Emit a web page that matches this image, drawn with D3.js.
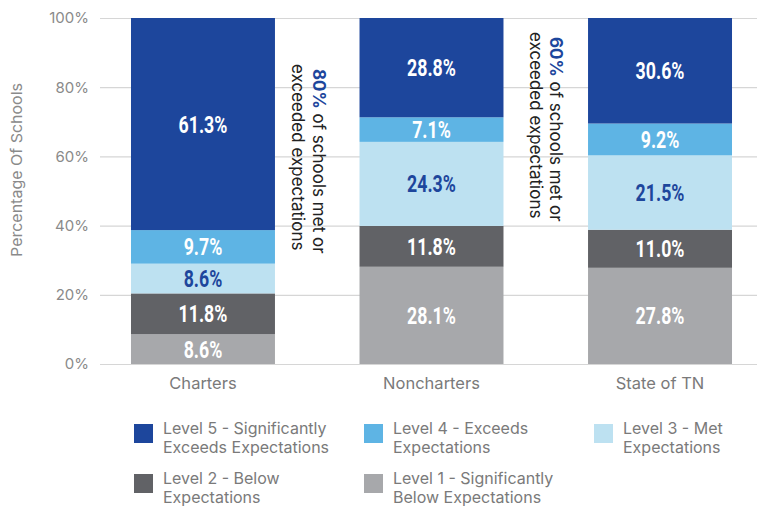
<!DOCTYPE html>
<html><head><meta charset="utf-8">
<script src="https://cdn.jsdelivr.net/npm/d3@7"></script>
<style>body{margin:0;background:#fff;}svg{display:block;}</style>
</head><body>
<svg id="chart" width="757" height="512"></svg>
<script>
const categories = ["Charters", "Noncharters", "State of TN"];
const levels = ["Level 1 - Significantly Below Expectations", "Level 2 - Below Expectations", "Level 3 - Met Expectations", "Level 4 - Exceeds Expectations", "Level 5 - Significantly Exceeds Expectations"];
const level1 = [8.6, 28.1, 27.8];
const level2 = [11.8, 11.8, 11.0];
const level3 = [8.6, 24.3, 21.5];
const level4 = [9.7, 7.1, 9.2];
const level5 = [61.3, 28.8, 30.6];
const yTicks = [0, 20, 40, 60, 80, 100];
const annotations = [
  {after: 0, pct: "80%", rest: " of schools met or", line2: "exceeded expectations"},
  {after: 1, pct: "60%", rest: " of schools met or", line2: "exceeded expectations"}
];
const legendLines = [
  ["Level 5 - Significantly", "Exceeds Expectations"],
  ["Level 4 - Exceeds", "Expectations"],
  ["Level 3 - Met", "Expectations"],
  ["Level 2 - Below", "Expectations"],
  ["Level 1 - Significantly", "Below Expectations"]
];
const legendOrder = [4, 3, 2, 1, 0];

const colors = ["#a7a8ab", "#616266", "#bde1f1", "#5eb4e4", "#1d469c"];
const labelColors = ["#ffffff", "#ffffff", "#1d469c", "#ffffff", "#ffffff"];
const series = [level1, level2, level3, level4, level5];

const svg = d3.select("#chart");
const x = d3.scaleBand().domain(categories).range([103, 760]).paddingInner(0.37).paddingOuter(0.1225);
const y = d3.scaleLinear().domain([0, 100]).range([364, 18]).clamp(true);

// gridlines
svg.append("g").selectAll("line").data(yTicks).join("line")
  .attr("x1", 100).attr("x2", 757)
  .attr("y1", d => y(d) + 0.5).attr("y2", d => y(d) + 0.5)
  .attr("stroke", "#d6d6d6").attr("stroke-width", 1.2);

// y axis labels
const yAxis = d3.axisLeft(y).tickValues(yTicks).tickFormat(d => d + "%").tickSize(0).tickPadding(0);
const ya = svg.append("g").attr("transform", "translate(89,0)").call(yAxis);
ya.select(".domain").remove();
ya.selectAll("text").attr("font-family", "Inter, Roboto, sans-serif").attr("font-size", 15).attr("fill", "#8a8a8a");

svg.append("text").attr("transform", "translate(22,170) rotate(-90)")
  .attr("text-anchor", "middle").attr("font-family", "Inter, Roboto, sans-serif")
  .attr("font-size", 15).attr("fill", "#8a8a8a")
  .attr("textLength", 174).attr("lengthAdjust", "spacingAndGlyphs")
  .text("Percentage Of Schools");

// stacked data
const rows = categories.map((c, i) => {
  const o = {cat: c};
  levels.forEach((l, j) => o[l] = series[j][i]);
  return o;
});
const stack = d3.stack().keys(levels)(rows);

const g = svg.append("g");
stack.forEach((layer, j) => {
  g.append("g").selectAll("rect").data(layer).join("rect")
    .attr("x", d => x(d.data.cat))
    .attr("width", x.bandwidth())
    .attr("y", d => y(d[1]))
    .attr("height", d => y(d[0]) - y(d[1]))
    .attr("fill", colors[j]);
  g.append("g").selectAll("text").data(layer).join("text")
    .attr("transform", d => `translate(${x(d.data.cat) + x.bandwidth() / 2},${(y(d[0]) + y(d[1])) / 2 + 8.5}) scale(0.74,1)`)
    .attr("text-anchor", "middle")
    .attr("font-family", "Roboto, 'Open Sans', sans-serif")
    .attr("font-weight", 700)
    .attr("font-size", 24)
    .attr("fill", labelColors[j])
    .text((d, i) => series[j][i].toFixed(1) + "%");
});

// x labels
const xAxis = d3.axisBottom(x).tickSize(0).tickPadding(0);
const xa = svg.append("g").attr("transform", "translate(0,377)").call(xAxis);
xa.select(".domain").remove();
xa.selectAll("text").attr("font-family", "Inter, Roboto, sans-serif").attr("font-size", 16.5).attr("fill", "#7a7a7a");

// annotations
const annOffsets = [[38, 17, 69, 64], [47, 27, 37, 32]];
annotations.forEach((a, k) => {
  const bx = x(categories[a.after]) + x.bandwidth();
  const [o1, o2, s1, s2] = annOffsets[k];
  const t1 = svg.append("text")
    .attr("transform", `translate(${bx + o1},${s1}) rotate(90)`)
    .attr("font-family", "Inter, Roboto, sans-serif").attr("font-size", 17).attr("fill", "#222");
  t1.append("tspan").attr("font-weight", 700).attr("fill", "#1d469c").text(a.pct);
  t1.append("tspan").text(a.rest);
  svg.append("text")
    .attr("transform", `translate(${bx + o2},${s2}) rotate(90)`)
    .attr("font-family", "Inter, Roboto, sans-serif").attr("font-size", 17).attr("fill", "#222")
    .text(a.line2);
});

// legend
const legX = [134, 364, 594];
const legY = [424, 474];
legendOrder.forEach((li, idx) => {
  const col = idx % 3, row = Math.floor(idx / 3);
  const lg = svg.append("g").attr("transform", `translate(${legX[col]},${legY[row]})`);
  lg.append("rect").attr("width", 19).attr("height", 19).attr("fill", colors[li]);
  const t = lg.append("text").attr("font-family", "Inter, Roboto, sans-serif").attr("font-size", 16).attr("fill", "#7a7a7a");
  legendLines[idx].forEach((line, n) => {
    t.append("tspan").attr("x", 29).attr("y", 10 + n * 19).text(line);
  });
});
</script>
</body></html>
